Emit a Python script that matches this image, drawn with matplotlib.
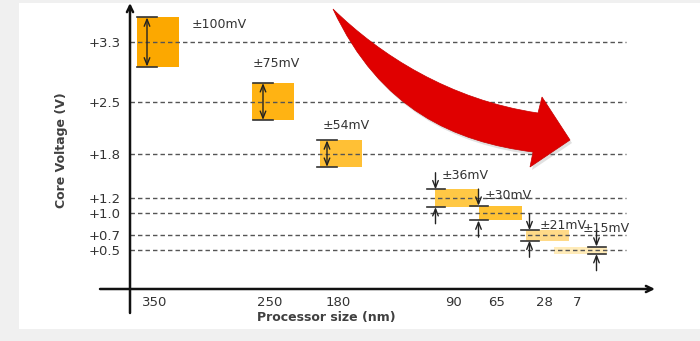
import matplotlib
matplotlib.use("Agg")
import matplotlib.pyplot as plt
from matplotlib.path import Path
from matplotlib.patches import PathPatch, Rectangle
from matplotlib.transforms import Affine2D

# data
nodes = ["350", "250", "180", "90", "65", "28", "7"]
core_v = [3.3, 2.5, 1.8, 1.2, 1.0, 0.7, 0.5]
tol_mv = [100, 75, 54, 36, 30, 21, 15]
v_ticks = [3.3, 2.5, 1.8, 1.2, 1.0, 0.7, 0.5]
v_labels = ["+3.3", "+2.5", "+1.8", "+1.2", "+1.0", "+0.7", "+0.5"]

# layout (x in pixels from the y axis)
x_pos = [25, 140, 208, 323, 367, 414, 447]
box_w = [42, 42, 42, 43, 43, 43, 53]
box_colors = ["#fca800", "#ffb313", "#ffc035", "#ffc845", "#ffc233", "#ffda88", "#ffebb8"]
arrow_dx = [10, 11, 7, 1, 0, 4, 43]
arrow_kind = ["in", "in", "in", "out", "out", "out", "out"]
label_dx = [52, 1, 3, 7, 6, 14, 28]
label_dy = [7, -19, -14, -13, -10, -5, -17]
EXAG = 3.3  # box half height = tol * EXAG

W, H = 700, 341
px_per_v = 74.4
v_min = -0.02
fig = plt.figure(figsize=(7, 3.41), dpi=100, facecolor="#f0f0f0")
pix = Affine2D().scale(1 / W, -1 / H).translate(0, 1) + fig.transFigure

fig.patches.append(Rectangle((19, 3), 681, 326, transform=pix, facecolor="white",
                             edgecolor="none", zorder=-5))

ax = fig.add_axes([130 / W, (H - 289) / H, 525 / W, 286 / H])
ax.set_zorder(1)
ax.set_facecolor("none")
ax.set_xlim(0, 525)
ax.set_ylim(v_min, v_min + 286 / px_per_v)
for s in ax.spines.values():
    s.set_visible(False)

# grid lines
for v in v_ticks:
    ax.plot([0, 496], [v, v], color="#555555", lw=1.0, dashes=(3.2, 2.2), zorder=3)

# axes with arrows
axis_arrow = dict(arrowstyle="->,head_length=0.45,head_width=0.22", lw=1.8,
                  color="#111111", shrinkA=0, shrinkB=0)
ax.annotate("", xy=(0, 1.0), xytext=(0, v_min - 24 / px_per_v),
            xycoords=("data", "axes fraction"), textcoords="data",
            arrowprops=axis_arrow, annotation_clip=False)
ax.annotate("", xy=(525, v_min), xytext=(-30, v_min),
            arrowprops=axis_arrow, annotation_clip=False)

ax.set_yticks(v_ticks)
ax.set_yticklabels(v_labels)
ax.set_xticks(x_pos)
ax.set_xticklabels(nodes)
ax.tick_params(length=0, labelsize=9.5, labelcolor="#333333")
ax.tick_params(axis="y", pad=7)
ax.tick_params(axis="x", pad=5)

# boxes
centers = [x + 3 for x in x_pos]
halves = [t / 1000 * EXAG for t in tol_mv]
ax.bar(centers, [2 * h for h in halves], bottom=[v - h for v, h in zip(core_v, halves)],
       width=box_w, color=box_colors, zorder=2)

pt = 0.75  # points per pixel
for c, w, v, h, t, adx, kind, ldx, ldy in zip(centers, box_w, core_v, halves, tol_mv,
                                             arrow_dx, arrow_kind, label_dx, label_dy):
    left = c - w / 2
    ax_x = left + adx
    top, bot = v + h, v - h
    if kind == "in":
        ax.annotate("", xy=(ax_x, top), xytext=(ax_x, bot),
                    arrowprops=dict(arrowstyle="<->,head_length=0.5,head_width=0.2", lw=1.0,
                                    color="#222222", shrinkA=0, shrinkB=0), zorder=4)
        cw = 10
    else:
        ax.annotate("", xy=(ax_x, top), xytext=(0, 16 * pt), textcoords="offset points",
                    arrowprops=dict(arrowstyle="->,head_length=0.5,head_width=0.2", lw=1.0,
                                    color="#222222", shrinkA=0, shrinkB=0), zorder=4)
        ax.annotate("", xy=(ax_x, bot), xytext=(0, -16 * pt), textcoords="offset points",
                    arrowprops=dict(arrowstyle="->,head_length=0.5,head_width=0.2", lw=1.0,
                                    color="#222222", shrinkA=0, shrinkB=0), zorder=4)
        cw = 9
    ax.plot([ax_x - cw, ax_x + cw], [top, top], color="#333333", lw=1.2, zorder=4)
    ax.plot([ax_x - cw, ax_x + cw], [bot, bot], color="#333333", lw=1.2, zorder=4)
    ax.annotate("\u00b1%dmV" % t, xy=(left, top), xytext=(ldx * pt, -ldy * pt),
                textcoords="offset points", ha="left", va="center", fontsize=9,
                color="#333333", zorder=5)

# axis titles
fig.text(62 / W, 1 - 150 / H, "Core Voltage (V)", rotation=90, ha="center", va="center",
         fontsize=9, fontweight="bold", color="#404040")
fig.text(326 / W, 1 - 318 / H, "Processor size (nm)", ha="center", va="center",
         fontsize=9, fontweight="bold", color="#404040")

# red trend arrow (pixel coordinates)
verts = [(333, 9), (380, 55), (450, 100), (538, 113),
         (542, 97), (570, 140), (530, 167), (533, 152),
         (455, 142), (380, 110), (333, 9), (333, 9)]
codes = [Path.MOVETO, Path.CURVE4, Path.CURVE4, Path.CURVE4,
         Path.LINETO, Path.LINETO, Path.LINETO, Path.LINETO,
         Path.CURVE4, Path.CURVE4, Path.CURVE4, Path.CLOSEPOLY]
arrow = Path(verts, codes)
fig.patches.append(PathPatch(arrow, transform=Affine2D().translate(2, 3) + pix,
                             facecolor="#888888", edgecolor="none", alpha=0.25, zorder=6))
fig.patches.append(PathPatch(arrow, transform=pix, facecolor="#e00000",
                             edgecolor="#c80000", lw=0.5, zorder=7))

fig.savefig("out.png", dpi=100, facecolor=fig.get_facecolor())
